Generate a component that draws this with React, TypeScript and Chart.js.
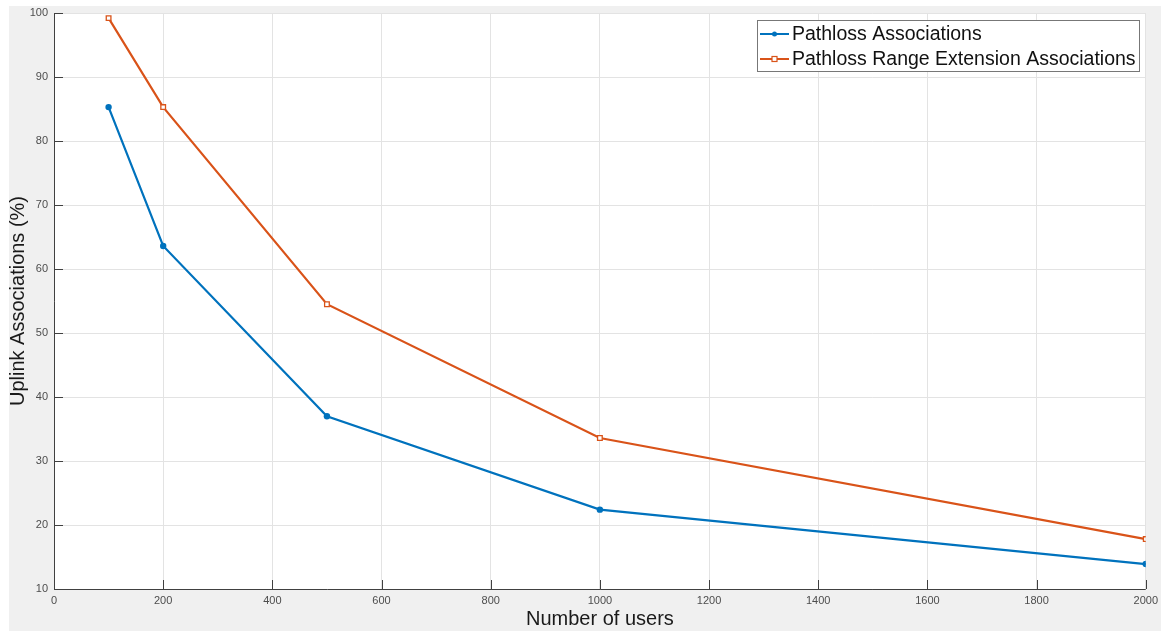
import React, { useEffect, useRef } from "react";
import { Chart, registerables } from "chart.js";

Chart.register(...registerables);

const users = [100, 200, 500, 1000, 2000];
const pathlossAssoc = [85.3, 63.6, 37.0, 22.4, 13.9];
const rangeExtAssoc = [99.2, 85.3, 54.5, 33.6, 17.8];
const seriesLabels = ["Pathloss Associations", "Pathloss Range Extension Associations"];
const xTitle = "Number of users";
const yTitle = "Uplink Associations (%)";

const BLUE = "#0072BD";
const ORANGE = "#D95319";
const FONT = "'Liberation Sans', Arial, Helvetica, sans-serif";

const bgPlugin = {
  id: "bgPlugin",
  beforeDraw(chart: any) {
    const { ctx, chartArea } = chart;
    ctx.save();
    ctx.fillStyle = "#f0f0f0";
    ctx.fillRect(9, 6, chart.width - 11, chart.height - 6);
    ctx.fillStyle = "#ffffff";
    ctx.fillRect(chartArea.left, chartArea.top, chartArea.right - chartArea.left, chartArea.bottom - chartArea.top);
    ctx.restore();
  },
};

const axesPlugin = {
  id: "axesPlugin",
  afterDraw(chart: any) {
    const { ctx, chartArea, scales } = chart;
    const { left, right, top, bottom } = chartArea;
    ctx.save();
    ctx.strokeStyle = "#404040";
    ctx.lineWidth = 1;
    ctx.beginPath();
    ctx.moveTo(left + 0.5, top);
    ctx.lineTo(left + 0.5, bottom + 0.5);
    ctx.lineTo(right, bottom + 0.5);
    const tl = 9;
    scales.y.ticks.forEach((t: any) => {
      const y = Math.round(scales.y.getPixelForValue(t.value)) + 0.5;
      ctx.moveTo(left, y);
      ctx.lineTo(left + tl, y);
    });
    scales.x.ticks.forEach((t: any) => {
      const x = Math.round(scales.x.getPixelForValue(t.value)) + 0.5;
      ctx.moveTo(x, bottom);
      ctx.lineTo(x, bottom - tl);
    });
    ctx.stroke();

    // legend
    const bx = 757.5, by = 20.5, bw = 382, bh = 51;
    ctx.fillStyle = "#ffffff";
    ctx.fillRect(bx, by, bw, bh);
    ctx.strokeStyle = "#777777";
    ctx.strokeRect(bx, by, bw, bh);
    ctx.font = `19.5px ${FONT}`;
    ctx.textBaseline = "middle";
    ctx.textAlign = "left";
    chart.data.datasets.forEach((ds: any, i: number) => {
      const cy = 34 + i * 25;
      ctx.strokeStyle = ds.borderColor;
      ctx.lineWidth = 2;
      ctx.beginPath();
      ctx.moveTo(760, cy);
      ctx.lineTo(789, cy);
      ctx.stroke();
      if (ds.pointStyle === "circle") {
        ctx.fillStyle = ds.borderColor;
        ctx.beginPath();
        ctx.arc(774.5, cy, 2.5, 0, Math.PI * 2);
        ctx.fill();
      } else {
        ctx.lineWidth = 1.2;
        ctx.fillStyle = "#ffffff";
        ctx.fillRect(772, cy - 2.5, 5, 5);
        ctx.strokeRect(772, cy - 2.5, 5, 5);
      }
      ctx.fillStyle = "#111111";
      ctx.fillText(ds.label, 792, cy + 1);
    });
    ctx.restore();
  },
};

export default function App() {
  const ref = useRef<HTMLCanvasElement | null>(null);
  useEffect(() => {
    if (!ref.current) return;
    const chart = new Chart(ref.current, {
      type: "line",
      data: {
        datasets: [
          {
            label: seriesLabels[0],
            data: users.map((u, i) => ({ x: u, y: pathlossAssoc[i] })),
            borderColor: BLUE,
            backgroundColor: BLUE,
            borderWidth: 2.2,
            pointStyle: "circle",
            pointRadius: 3.2,
            pointBorderWidth: 0,
            pointBackgroundColor: BLUE,
            tension: 0,
          },
          {
            label: seriesLabels[1],
            data: users.map((u, i) => ({ x: u, y: rangeExtAssoc[i] })),
            borderColor: ORANGE,
            backgroundColor: "#ffffff",
            borderWidth: 2.2,
            pointStyle: "rect",
            pointRadius: 3.3,
            pointBorderWidth: 1.3,
            pointBackgroundColor: "#ffffff",
            pointBorderColor: ORANGE,
            tension: 0,
          },
        ],
      },
      options: {
        animation: false,
        responsive: true,
        maintainAspectRatio: false,
        layout: { padding: { top: 13, right: 13, bottom: 0, left: 6 } },
        plugins: { legend: { display: false }, tooltip: { enabled: false } },
        scales: {
          x: {
            type: "linear",
            min: 0,
            max: 2000,
            ticks: {
              stepSize: 200,
              padding: 5,
              color: "#4d4d4d",
              font: { size: 11, family: FONT },
              callback: (v: any) => String(v),
            },
            grid: { color: "#e3e3e3", drawTicks: false },
            border: { display: false },
            title: { display: true, text: xTitle, color: "#1a1a1a", padding: 0, font: { size: 20, family: FONT } },
            afterFit: (s: any) => { s.height = 42; },
          },
          y: {
            type: "linear",
            min: 10,
            max: 100,
            ticks: { stepSize: 10, padding: 6, color: "#4d4d4d", font: { size: 11, family: FONT } },
            grid: { color: "#e3e3e3", drawTicks: false },
            border: { display: false },
            title: { display: true, text: yTitle, color: "#1a1a1a", padding: 0, font: { size: 20, family: FONT } },
            afterFit: (s: any) => { s.width = 48; },
          },
        },
      },
      plugins: [bgPlugin, axesPlugin],
    });
    return () => chart.destroy();
  }, []);
  return (
    <div style={{ position: "absolute", left: 0, top: 0, width: 1163, height: 631 }}>
      <canvas ref={ref} />
    </div>
  );
}
